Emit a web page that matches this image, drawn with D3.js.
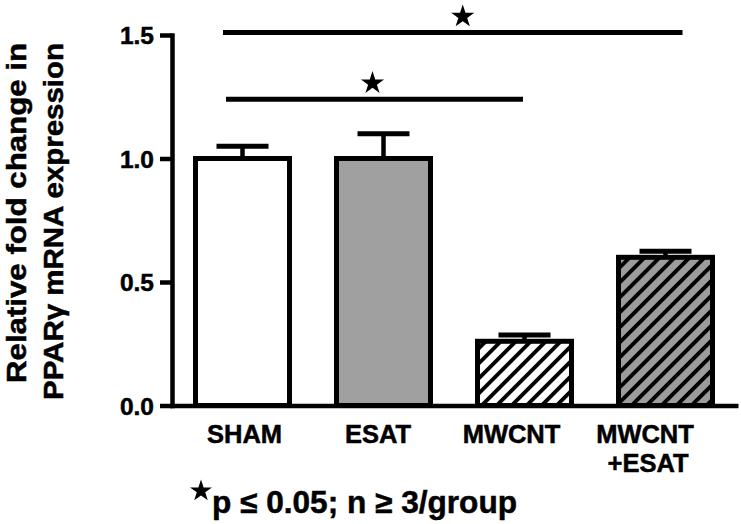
<!DOCTYPE html>
<html>
<head>
<meta charset="utf-8">
<script src="https://cdn.jsdelivr.net/npm/d3@7"></script>
<style>
  html, body { margin: 0; padding: 0; background: #fff; }
  svg { display: block; }
  text { font-family: "Liberation Sans", Arial, Helvetica, sans-serif; font-weight: bold; fill: #000; stroke: #000; stroke-width: 0.5; }
</style>
</head>
<body>
<svg id="chart" width="741" height="524"></svg>
<script>
// ---- data ----
const categories = ["SHAM", "ESAT", "MWCNT", "MWCNT+ESAT"];
const labelLines = [["SHAM"], ["ESAT"], ["MWCNT"], ["MWCNT", "+ESAT"]];
const means = [1.00, 1.00, 0.26, 0.60];
const errors = [0.05, 0.10, 0.025, 0.025];
const fills = ["white", "gray", "hatchWhite", "hatchGray"];
const yTicks = [0.0, 0.5, 1.0, 1.5];
const brackets = [
  { from: "SHAM", to: "MWCNT+ESAT", level: 1.51 },
  { from: "SHAM", to: "MWCNT", level: 1.24 }
];
const yTitle = ["Relative fold change in", "PPARγ mRNA expression"];
const footnote = "p ≤ 0.05; n ≥ 3/group";

// ---- layout ----
const svg = d3.select("#chart");
const defs = svg.append("defs");

function hatch(id, bg) {
  const p = defs.append("pattern")
    .attr("id", id).attr("patternUnits", "userSpaceOnUse")
    .attr("width", 10.6).attr("height", 10.6)
    .attr("patternTransform", "rotate(45)");
  p.append("rect").attr("width", 10.6).attr("height", 10.6).attr("fill", bg);
  p.append("rect").attr("x", 0).attr("width", 3.8).attr("height", 10.6).attr("fill", "#000");
}
hatch("hatchWhite", "#fff");
hatch("hatchGray", "#9c9c9c");
const fillMap = { white: "#fff", gray: "#a0a0a0", hatchWhite: "url(#hatchWhite)", hatchGray: "url(#hatchGray)" };

const y = d3.scaleLinear().domain([0, 1.5]).range([405.5, 35]);
const x = d3.scaleBand().domain(categories).range([172, 736]).paddingInner(1/3).paddingOuter(1/6);
const labelX = d3.scalePoint().domain(categories).range([244.5, 645]);
const cx = c => x(c) + x.bandwidth() / 2;

const data = categories.map((c, i) => ({ c, m: means[i], e: errors[i], f: fills[i] }));

// error bars (behind bars)
const eg = svg.append("g");
eg.selectAll("line.stem").data(data).join("line")
  .attr("x1", d => cx(d.c)).attr("x2", d => cx(d.c))
  .attr("y1", d => y(d.m)).attr("y2", d => y(d.m + d.e))
  .attr("stroke", "#000").attr("stroke-width", 4.5);
eg.selectAll("line.cap").data(data).join("line")
  .attr("x1", d => cx(d.c) - 26).attr("x2", d => cx(d.c) + 26)
  .attr("y1", d => y(d.m + d.e)).attr("y2", d => y(d.m + d.e))
  .attr("stroke", "#000").attr("stroke-width", 5);

svg.append("g").selectAll("rect").data(data).join("rect")
  .attr("x", d => x(d.c)).attr("width", x.bandwidth())
  .attr("y", d => y(d.m)).attr("height", d => y(0) - y(d.m))
  .attr("fill", d => fillMap[d.f])
  .attr("stroke", "#000").attr("stroke-width", 5);

// y axis
const yAxis = svg.append("g").attr("transform", "translate(172,0)")
  .call(d3.axisLeft(y).tickValues(yTicks).tickFormat(d3.format(".1f"))
    .tickSize(12).tickSizeOuter(0).tickPadding(6));
yAxis.select(".domain").attr("stroke", "#000").attr("stroke-width", 4.5)
  .attr("stroke-linecap", "square");
yAxis.selectAll(".tick line").attr("stroke", "#000").attr("stroke-width", 4.5);
yAxis.selectAll(".tick text").attr("font-size", 24.5).attr("font-family", null)
  .attr("fill", "#000").attr("dy", "0.36em");

// x baseline
const xAxis = svg.append("g").attr("transform", `translate(0,${y(0)})`)
  .call(d3.axisBottom(d3.scaleLinear().domain([0, 1]).range([170, 738])).tickValues([]).tickSizeOuter(0));
xAxis.select(".domain").attr("stroke", "#000").attr("stroke-width", 4.5);

// category labels
const lg = svg.append("g");
categories.forEach((c, i) => {
  const t = lg.append("text").attr("x", labelX(c)).attr("y", 443)
    .attr("text-anchor", "middle").attr("font-size", 25.5);
  labelLines[i].forEach((s, j) => {
    t.append("tspan").attr("x", labelX(c) + (j ? 3 : 0)).attr("dy", j ? 29 : 0).text(s);
  });
});

// significance brackets
const star = d3.symbol().type(d3.symbolStar).size(165);
const bOff = [[-19.5, 17, 10], [-16.5, -1.5, -2]];
brackets.forEach((b, i) => {
  const x1 = cx(b.from) + bOff[i][0], x2 = cx(b.to) + bOff[i][1];
  const yy = y(b.level);
  svg.append("line").attr("x1", x1).attr("x2", x2).attr("y1", yy).attr("y2", yy)
    .attr("stroke", "#000").attr("stroke-width", 5);
  svg.append("path").attr("d", star)
    .attr("transform", `translate(${(x1 + x2) / 2 + bOff[i][2]},${yy - 16})`)
    .attr("fill", "#000");
});

// y title
const yt = svg.append("text").attr("transform", "translate(0,43) rotate(-90)")
  .attr("text-anchor", "end").attr("font-size", 28);
yt.append("tspan").attr("x", 0).attr("y", 25.5).attr("textLength", 340)
  .attr("lengthAdjust", "spacingAndGlyphs").text(yTitle[0]);
yt.append("tspan").attr("x", 0).attr("y", 63).attr("textLength", 357)
  .attr("lengthAdjust", "spacingAndGlyphs").text(yTitle[1]);

// footnote
svg.append("path").attr("d", d3.symbol().type(d3.symbolStar).size(150))
  .attr("transform", "translate(201,491)").attr("fill", "#000");
svg.append("text").attr("x", 212).attr("y", 513).attr("font-size", 31)
  .attr("textLength", 305).attr("lengthAdjust", "spacingAndGlyphs").text(footnote);
</script>
</body>
</html>
